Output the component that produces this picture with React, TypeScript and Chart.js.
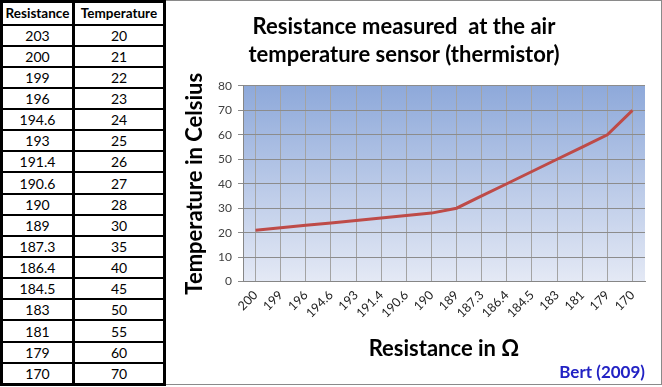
import React, { useEffect, useRef } from 'react';
import { Chart, registerables } from 'chart.js';

Chart.register(...registerables);

// ---- data ----
const tableResistance = ['203', '200', '199', '196', '194.6', '193', '191.4', '190.6', '190', '189', '187.3', '186.4', '184.5', '183', '181', '179', '170'];
const tableTemperature = ['20', '21', '22', '23', '24', '25', '26', '27', '28', '30', '35', '40', '45', '50', '55', '60', '70'];
const tableHeaders = ['Resistance', 'Temperature'];

const categories = ['200', '199', '196', '194.6', '193', '191.4', '190.6', '190', '189', '187.3', '186.4', '184.5', '183', '181', '179', '170'];
const temperatures = [21, 22, 23, 24, 25, 26, 27, 28, 30, 35, 40, 45, 50, 55, 60, 70];

const yMin = 0;
const yMax = 80;
const yStep = 10;

const titleLines = ['Resistance measured  at the air', 'temperature sensor (thermistor)'];
const xTitle = 'Resistance in Ω';
const yTitle = 'Temperature in Celsius';
const credit = 'Bert (2009)';

const FONT = 'Lato, "Open Sans", "DejaVu Sans", sans-serif';

const gradientPlugin = {
  id: 'plotGradient',
  beforeDraw(chart: any) {
    const { ctx, chartArea } = chart;
    if (!chartArea) return;
    const g = ctx.createLinearGradient(0, chartArea.top, 0, chartArea.bottom);
    g.addColorStop(0, '#8ea9da');
    g.addColorStop(1, '#e4e9f5');
    ctx.save();
    ctx.fillStyle = g;
    ctx.fillRect(chartArea.left, chartArea.top, chartArea.right - chartArea.left, chartArea.bottom - chartArea.top);
    ctx.restore();
  },
};

function ChartPanel() {
  const ref = useRef<HTMLCanvasElement | null>(null);
  useEffect(() => {
    if (!ref.current) return;
    const chart = new Chart(ref.current, {
      type: 'line',
      data: {
        labels: categories,
        datasets: [
          {
            data: temperatures,
            borderColor: '#be4b48',
            borderWidth: 3,
            pointRadius: 0,
            tension: 0,
            fill: false,
          },
        ],
      },
      plugins: [gradientPlugin],
      options: {
        animation: false,
        responsive: true,
        maintainAspectRatio: false,
        layout: { padding: { left: 0, right: 16, top: 0, bottom: 0 } },
        plugins: {
          legend: { display: false },
          tooltip: { enabled: false },
          title: {
            display: true,
            text: titleLines,
            color: '#000',
            font: { family: FONT, size: 22, weight: 'bold', lineHeight: 1.27 },
            padding: { top: 12, bottom: 17 },
          },
          subtitle: {
            display: true,
            text: credit,
            position: 'bottom',
            align: 'end',
            color: '#2222c4',
            font: { family: FONT, size: 17, weight: 'bold', lineHeight: 1.2 },
            padding: { top: 0, bottom: 1 },
          },
        },
        scales: {
          x: {
            type: 'category',
            offset: true,
            grid: { color: '#a3a3a3', lineWidth: 1, drawTicks: false, offset: false },
            border: { display: true, color: '#868686', width: 1 },
            ticks: {
              color: '#222',
              font: { family: FONT, size: 12.5 },
              minRotation: 45,
              maxRotation: 45,
              padding: 6,
              autoSkip: false,
            },
            title: {
              display: true,
              text: xTitle,
              color: '#000',
              font: { family: FONT, size: 22, weight: 'bold', lineHeight: 1.2 },
              padding: { top: 0, bottom: 0 },
            },
            afterFit(scale: any) {
              scale.height = 81;
            },
          },
          y: {
            min: yMin,
            max: yMax,
            grid: { color: '#8c8c8c', lineWidth: 1, drawTicks: true, tickLength: 5 },
            border: { display: true, color: '#868686', width: 1 },
            ticks: {
              stepSize: yStep,
              color: '#404040',
              font: { family: FONT, size: 12 },
              padding: 6,
            },
            title: {
              display: true,
              text: yTitle,
              color: '#000',
              font: { family: FONT, size: 22, weight: 'bold', lineHeight: 1.2 },
              padding: { top: 19, bottom: 0 },
            },
            afterFit(scale: any) {
              scale.width = 80;
            },
          },
        },
      },
    } as any);
    return () => chart.destroy();
  }, []);
  return <canvas ref={ref} />;
}

const cellBase: React.CSSProperties = {
  borderLeft: '3px solid #000',
  borderRight: '3px solid #000',
  borderTop: '2px solid #000',
  borderBottom: '2px solid #000',
  textAlign: 'center',
  padding: 0,
  fontFamily: FONT,
  fontSize: 14,
  color: '#000',
};

export default function App() {
  return (
    <div style={{ position: 'absolute', left: 0, top: 0, width: 662, height: 387, background: '#fff', overflow: 'hidden' }}>
      <div
        style={{
          position: 'absolute',
          left: 162,
          top: 0,
          width: 500,
          height: 385,
          border: '1px solid #8a8a8a',
          boxSizing: 'border-box',
        }}
      />
      <div style={{ position: 'absolute', left: 163, top: 1, width: 498, height: 383 }}>
        <ChartPanel />
      </div>
      <table
        style={{
          position: 'absolute',
          left: 0,
          top: 0,
          width: 163,
          height: 386,
          borderCollapse: 'collapse',
          tableLayout: 'fixed',
          border: '3px solid #000',
          background: '#fff',
        }}
      >
        <colgroup>
          <col style={{ width: 72 }} />
          <col style={{ width: 91 }} />
        </colgroup>
        <thead>
          <tr style={{ height: 23 }}>
            {tableHeaders.map((h) => (
              <th key={h} style={{ ...cellBase, fontSize: 13.5, fontWeight: 'bold' }}>
                {h}
              </th>
            ))}
          </tr>
        </thead>
        <tbody>
          {tableResistance.map((r, i) => (
            <tr key={r}>
              <td style={cellBase}>{r}</td>
              <td style={cellBase}>{tableTemperature[i]}</td>
            </tr>
          ))}
        </tbody>
      </table>
    </div>
  );
}
